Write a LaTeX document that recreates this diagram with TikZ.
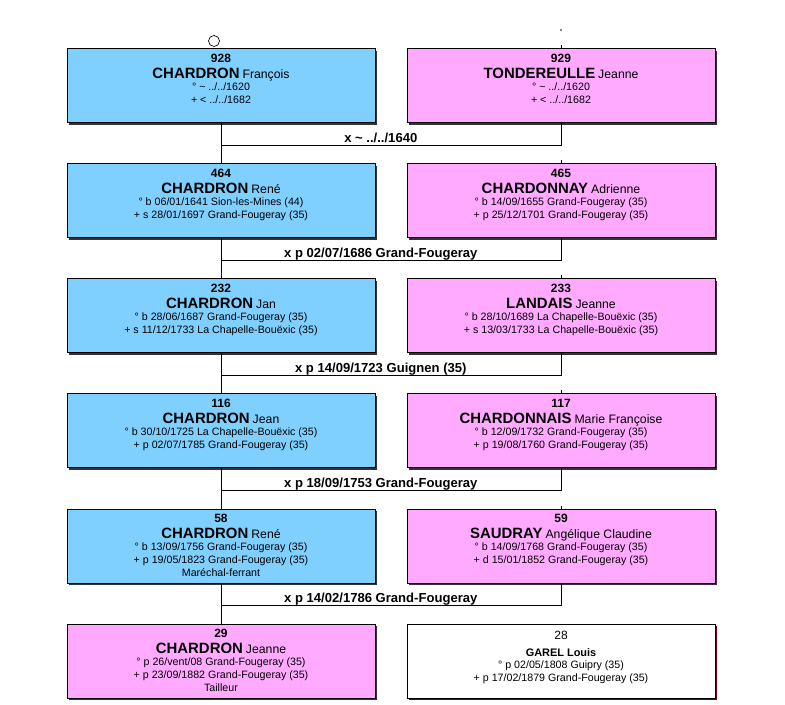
\documentclass[tikz,border=0pt]{standalone}
\usepackage{fontspec}
\setmainfont{Liberation Sans}
\usetikzlibrary{shadows}
\definecolor{bleu}{HTML}{80D0FF}
\definecolor{rose}{HTML}{FFAAFF}
\definecolor{brun}{HTML}{700010}
\newcommand{\numero}[1]{{\fontsize{9}{9}\selectfont\bfseries #1}}
\newcommand{\nom}[2]{{\fontsize{11.2}{11}\selectfont\bfseries #1} {\fontsize{9.2}{9}\selectfont #2}}

\begin{document}
\begin{tikzpicture}[x=0.75pt, y=-0.75pt,
    boite/.style={draw, line width=0.75pt, minimum width=231pt, minimum height=55.5pt, inner sep=0pt},
    ombre/.style={drop shadow={shadow xshift=1.4pt, shadow yshift=-1.4pt, fill=#1, opacity=1}},
    homme/.style={boite, fill=bleu, ombre=black!80},
    femme/.style={boite, fill=rose, ombre=black!80},
    conjoint/.style={boite, fill=white, ombre=brun},
    texte/.style={anchor=north, align=center, inner sep=0pt, yshift=-4.3pt, font=\fontsize{8}{9.75}\selectfont},
    mariage/.style={above, pos=0.47, inner sep=0pt, text depth=1.6pt, font=\fontsize{9.8}{12}\selectfont\bfseries}]
    \fill[white] (0,0) rectangle (785,705);
    \useasboundingbox (0,0) rectangle (785,705);

    % Génération 1
    \node[homme] (l1) at (221,86) {};
    \node[texte] (tl1) at (l1.north) {\numero{928}\\[2.25pt]\nom{CHARDRON}{François}\\[-1pt]
        ° \textasciitilde{} ../../1620\\+ < ../../1682};
    \node[femme] (r1) at (561,86) {};
    \node[texte] (tr1) at (r1.north) {\numero{929}\\[2.25pt]\nom{TONDEREULLE}{Jeanne}\\[-1pt]
        ° \textasciitilde{} ../../1620\\+ < ../../1682};
    \node[circle, draw, line width=0.5pt, fill=white, inner sep=0pt, minimum size=8.25pt] (rond) at (214,41) {};
    \fill (561,30) circle[radius=0.6pt];

    % Génération 2
    \node[homme] (l2) at (221,201) {};
    \node[texte] (tl2) at (l2.north) {\numero{464}\\[2.25pt]\nom{CHARDRON}{René}\\[-1pt]
        ° b 06/01/1641 Sion-les-Mines (44)\\+ s 28/01/1697 Grand-Fougeray (35)};
    \node[femme] (r2) at (561,201) {};
    \node[texte] (tr2) at (r2.north) {\numero{465}\\[2.25pt]\nom{CHARDONNAY}{Adrienne}\\[-1pt]
        ° b 14/09/1655 Grand-Fougeray (35)\\+ p 25/12/1701 Grand-Fougeray (35)};

    % Génération 3
    \node[homme] (l3) at (221,316) {};
    \node[texte] (tl3) at (l3.north) {\numero{232}\\[2.25pt]\nom{CHARDRON}{Jan}\\[-1pt]
        ° b 28/06/1687 Grand-Fougeray (35)\\+ s 11/12/1733 La Chapelle-Bouëxic (35)};
    \node[femme] (r3) at (561,316) {};
    \node[texte] (tr3) at (r3.north) {\numero{233}\\[2.25pt]\nom{LANDAIS}{Jeanne}\\[-1pt]
        ° b 28/10/1689 La Chapelle-Bouëxic (35)\\+ s 13/03/1733 La Chapelle-Bouëxic (35)};

    % Génération 4
    \node[homme] (l4) at (221,431) {};
    \node[texte] (tl4) at (l4.north) {\numero{116}\\[2.25pt]\nom{CHARDRON}{Jean}\\[-1pt]
        ° b 30/10/1725 La Chapelle-Bouëxic (35)\\+ p 02/07/1785 Grand-Fougeray (35)};
    \node[femme] (r4) at (561,431) {};
    \node[texte] (tr4) at (r4.north) {\numero{117}\\[2.25pt]\nom{CHARDONNAIS}{Marie Françoise}\\[-1pt]
        ° b 12/09/1732 Grand-Fougeray (35)\\+ p 19/08/1760 Grand-Fougeray (35)};

    % Génération 5
    \node[homme] (l5) at (221,546) {};
    \node[texte] (tl5) at (l5.north) {\numero{58}\\[2.25pt]\nom{CHARDRON}{René}\\[-1pt]
        ° b 13/09/1756 Grand-Fougeray (35)\\+ p 19/05/1823 Grand-Fougeray (35)\\Maréchal-ferrant};
    \node[femme] (r5) at (561,546) {};
    \node[texte] (tr5) at (r5.north) {\numero{59}\\[2.25pt]\nom{SAUDRAY}{Angélique Claudine}\\[-1pt]
        ° b 14/09/1768 Grand-Fougeray (35)\\+ d 15/01/1852 Grand-Fougeray (35)};

    % Génération 6
    \node[femme] (l6) at (221,661) {};
    \node[texte] (tl6) at (l6.north) {\numero{29}\\[2.25pt]\nom{CHARDRON}{Jeanne}\\[-1pt]
        ° p 26/vent/08 Grand-Fougeray (35)\\+ p 23/09/1882 Grand-Fougeray (35)\\Tailleur};
    \node[conjoint] (r6) at (561,661) {};
    \node[texte, yshift=-0.9pt] (tr6) at (r6.north) {{\fontsize{9}{9}\selectfont 28}\\[3pt]
        {\fontsize{8.2}{9}\selectfont\bfseries GAREL Louis}\\[-0.5pt]
        ° p 02/05/1808 Guipry (35)\\+ p 17/02/1879 Grand-Fougeray (35)};

    % Liens
    \foreach \g [count=\n from 2] in {1,...,5} {
        \draw (l\g.south) -- (l\n.north);
        \draw (r\g.north) -- ++(0,-3);
    }
    \foreach \g/\mar in {1/{x \textasciitilde{} ../../1640}, 2/{x p 02/07/1686 Grand-Fougeray},
            3/{x p 14/09/1723 Guignen (35)}, 4/{x p 18/09/1753 Grand-Fougeray},
            5/{x p 14/02/1786 Grand-Fougeray}} {
        \coordinate (m\g) at ([yshift=-16.3pt]l\g.south);
        \draw (m\g) -- node[mariage] {\mar} (m\g -| r\g.south) -- (r\g.south);
    }
\end{tikzpicture}
\end{document}
